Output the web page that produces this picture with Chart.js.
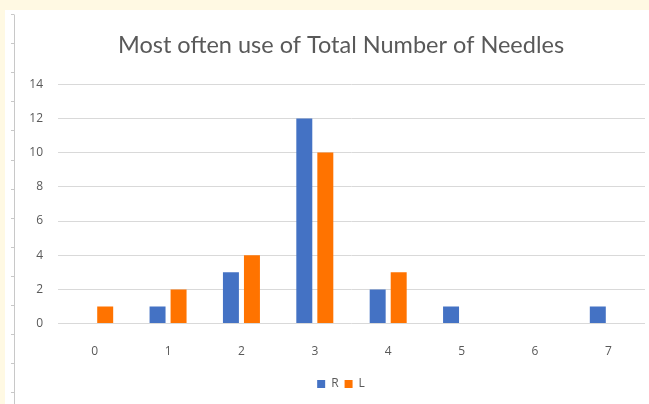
<!DOCTYPE html>
<html>
<head>
<meta charset="utf-8">
<script src="https://cdn.jsdelivr.net/npm/chart.js@4/dist/chart.umd.min.js"></script>
<style>
  html, body { margin: 0; padding: 0; background: #FFF9E3; }
  #wrap { position: absolute; left: 0; top: 0; width: 649px; height: 404px; }
</style>
</head>
<body>
<div id="wrap"><canvas id="c" width="649" height="404"></canvas></div>
<script>
// Number of needles used (category axis)
const categories = ['0', '1', '2', '3', '4', '5', '6', '7'];
// Counts per side
const rightValues = [0, 1, 3, 12, 2, 1, 0, 1];
const leftValues  = [1, 2, 4, 10, 3, 0, 0, 0];
const seriesNames = ['R', 'L'];

const textGray = '#595959';

// Page backdrop: cream margin, white sheet and the ruler line on its left edge
const sheetPlugin = {
  id: 'sheet',
  beforeDraw(chart) {
    const ctx = chart.ctx;
    ctx.save();
    ctx.fillStyle = '#FFF9E3';
    ctx.fillRect(0, 0, chart.width, chart.height);
    ctx.fillStyle = '#FFFFFF';
    ctx.fillRect(5, 10, chart.width - 5, chart.height - 10);
    ctx.strokeStyle = '#C8C8C8';
    ctx.lineWidth = 1;
    ctx.beginPath();
    ctx.moveTo(14.5, 15);
    ctx.lineTo(14.5, chart.height);
    for (let y = 14; y < chart.height; y += 29.1) {
      const yy = Math.round(y) + 0.5;
      ctx.moveTo(11, yy);
      ctx.lineTo(14.5, yy);
    }
    ctx.stroke();
    ctx.restore();
  }
};

new Chart(document.getElementById('c'), {
  type: 'bar',
  data: {
    labels: categories,
    datasets: [
      { label: seriesNames[0], data: rightValues, backgroundColor: '#4472C4' },
      { label: seriesNames[1], data: leftValues,  backgroundColor: '#FF7300' }
    ]
  },
  options: {
    responsive: false,
    animation: false,
    devicePixelRatio: 1,
    categoryPercentage: 0.573,
    barPercentage: 0.76,
    layout: { padding: { left: 37, right: 4, top: 31, bottom: 4 } },
    plugins: {
      title: {
        display: true,
        text: 'Most often use of Total Number of Needles',
        color: textGray,
        font: { family: 'Lato', size: 23.5, weight: 'normal' },
        padding: { top: 0, bottom: 25 }
      },
      legend: {
        position: 'bottom',
        labels: {
          color: textGray,
          boxWidth: 8,
          boxHeight: 8,
          padding: 6,
          font: { family: 'Open Sans', size: 12 }
        }
      },
      tooltip: { enabled: false }
    },
    scales: {
      x: {
        grid: { display: false },
        border: { display: false },
        ticks: { color: textGray, padding: 13, font: { family: 'Open Sans', size: 12 } }
      },
      y: {
        min: 0,
        max: 14,
        // narrow axis box; labels may extend into the left margin
        afterFit(scale) {
          scale.width = 21;
          scale._computeLabelArea = () => undefined;
        },
        ticks: { stepSize: 2, color: textGray, padding: 15, font: { family: 'Open Sans', size: 12 } },
        grid: { color: '#D9D9D9', lineWidth: 1, drawTicks: false },
        border: { display: false }
      }
    }
  },
  plugins: [sheetPlugin]
});
</script>
</body>
</html>
